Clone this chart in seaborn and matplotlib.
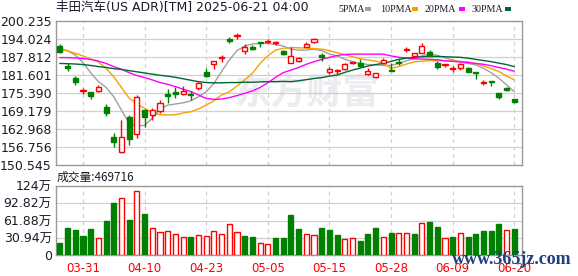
import numpy as np
import pandas as pd
import matplotlib
matplotlib.use("Agg")
import matplotlib.pyplot as plt
from matplotlib.patches import Rectangle
import seaborn as sns

# ---------------- data ----------------
dates = ["03-26", "03-27", "03-28", "03-31",
         "04-01", "04-02", "04-03", "04-04", "04-07", "04-08", "04-09", "04-10", "04-11",
         "04-14", "04-15", "04-16", "04-17", "04-21", "04-22", "04-23", "04-24", "04-25",
         "04-28", "04-29", "04-30",
         "05-01", "05-02", "05-05", "05-06", "05-07", "05-08", "05-09", "05-12", "05-13",
         "05-14", "05-15", "05-16", "05-19", "05-20", "05-21", "05-22", "05-23", "05-27",
         "05-28", "05-29", "05-30",
         "06-02", "06-03", "06-04", "06-05", "06-06", "06-09", "06-10", "06-11", "06-12",
         "06-13", "06-16", "06-17", "06-18", "06-20"]

open_ = [191.7, 184.8, 180.5, 176.0, 175.6, 176.2, 170.5, 160.1, 155.1, 167.0,
         161.2, 169.5, 167.8, 169.2, 175.0, 175.9, 175.1, 175.0, 177.0, 182.7,
         185.4, 187.4, 194.0, 195.0, 190.0, 191.4, 192.9, 192.9, 192.6, 190.0,
         185.9, 186.5, 191.4, 193.1, 188.5, 182.5, 182.9, 183.6, 185.9, 185.8,
         182.0, 181.0, 185.6, 183.4, 186.0, 190.3, 188.0, 189.3, 189.4, 185.6,
         185.0, 183.7, 184.1, 184.1, 182.4, 179.0, 179.6, 175.3, 177.0, 173.3]
close = [189.6, 184.1, 179.3, 176.2, 174.4, 177.4, 168.4, 158.6, 160.1, 159.4,
         174.1, 167.2, 169.5, 171.8, 174.2, 175.0, 176.1, 174.6, 178.7, 181.4,
         186.5, 187.8, 193.4, 195.4, 191.1, 190.7, 192.7, 193.1, 192.9, 188.9,
         188.1, 187.6, 192.3, 194.1, 187.7, 183.7, 183.2, 185.4, 186.1, 184.7,
         183.1, 182.2, 186.8, 183.1, 185.7, 190.5, 189.3, 191.6, 188.2, 184.3,
         185.3, 183.9, 185.3, 182.7, 182.2, 179.3, 179.1, 173.9, 176.3, 172.4]
high = [192.2, 185.6, 181.3, 177.2, 175.6, 178.1, 171.5, 161.5, 166.1, 167.8,
        174.7, 169.8, 170.1, 173.0, 176.7, 177.6, 177.8, 176.0, 179.3, 183.9,
        186.5, 188.5, 194.7, 196.0, 192.2, 191.9, 193.0, 194.0, 193.5, 190.2,
        191.4, 187.7, 193.1, 194.5, 189.1, 184.3, 183.8, 185.9, 186.1, 187.0,
        183.9, 182.2, 187.6, 185.6, 187.1, 191.3, 189.3, 192.7, 190.2, 186.4,
        185.3, 184.6, 185.9, 184.4, 182.4, 180.0, 179.6, 175.3, 177.6, 173.3]
low = [189.3, 183.0, 178.2, 174.9, 173.4, 175.6, 167.6, 156.9, 154.8, 157.4,
       160.0, 163.8, 166.1, 168.6, 171.8, 173.6, 174.7, 173.0, 176.4, 181.0,
       183.7, 186.2, 192.6, 193.9, 188.7, 190.1, 191.1, 192.6, 192.0, 188.6,
       185.6, 186.0, 191.2, 192.6, 186.5, 182.0, 182.0, 183.2, 185.3, 184.5,
       181.6, 180.4, 185.3, 183.0, 185.0, 189.7, 187.4, 189.1, 188.0, 183.6,
       184.3, 182.8, 183.4, 182.6, 180.2, 178.3, 177.9, 173.3, 176.2, 171.8]

ma5 = [190.8, 190.0, 188.5, 185.9, 182.4, 179.3, 177.3, 174.1, 169.5, 164.9,
       164.0, 164.2, 166.7, 169.8, 171.2, 171.6, 172.0, 172.7, 174.1, 175.8,
       178.7, 182.8, 186.8, 190.0, 191.6, 192.3, 192.5, 192.5, 192.1, 191.6,
       190.5, 190.2, 190.2, 190.5, 190.0, 188.8, 188.2, 187.0, 186.2, 185.6,
       185.2, 185.1, 184.9, 184.9, 185.6, 186.5, 187.3, 188.2, 188.8, 188.4,
       187.5, 186.8, 186.1, 185.6, 185.1, 183.9, 182.4, 180.5, 178.2, 175.8]
ma10 = [190.5, 189.9, 189.1, 188.2, 187.1, 186.1, 183.9, 181.0, 177.3, 173.6,
        171.6, 170.1, 168.6, 167.9, 167.8, 167.9, 168.5, 168.9, 169.9, 171.2,
        172.7, 174.7, 175.8, 177.8, 179.9, 182.2, 185.6, 188.2, 190.2, 190.8,
        191.1, 191.0, 190.9, 190.7, 190.5, 190.0, 189.3, 188.6, 187.9, 187.2,
        186.8, 186.4, 185.6, 183.9, 184.5, 185.4, 186.1, 186.4, 186.5, 186.5,
        186.5, 186.4, 186.3, 186.1, 185.6, 184.7, 183.8, 182.8, 181.3, 179.9]
ma20 = [187.6, 187.6, 187.5, 187.3, 187.0, 186.4, 185.6, 184.5, 183.6, 182.4,
        181.4, 180.7, 179.9, 179.0, 178.4, 177.6, 176.7, 175.9, 174.7, 173.5,
        173.2, 173.3, 173.8, 174.5, 175.3, 176.1, 177.3, 178.9, 180.8, 182.4,
        183.3, 184.2, 185.3, 186.2, 187.0, 187.7, 188.3, 188.7, 188.8, 188.8,
        188.8, 188.8, 188.8, 188.2, 187.7, 187.5, 187.2, 187.1, 187.0, 186.9,
        186.5, 186.3, 186.1, 185.9, 185.6, 185.3, 184.8, 184.2, 183.6, 182.9]
ma30 = [185.6, 185.5, 185.4, 185.2, 184.9, 184.5, 184.2, 183.8, 183.5, 183.1,
        182.7, 182.3, 181.9, 181.5, 181.2, 180.8, 180.3, 179.8, 179.3, 179.0,
        178.9, 178.9, 179.0, 179.0, 179.1, 179.1, 179.2, 179.3, 179.3, 179.4,
        179.3, 179.6, 180.0, 180.4, 180.7, 181.2, 181.6, 182.5, 183.3, 184.0,
        184.7, 185.2, 185.6, 186.3, 187.0, 187.4, 187.7, 187.9, 188.0, 188.0,
        187.9, 187.8, 187.7, 187.4, 187.0, 186.6, 186.2, 185.7, 185.2, 184.5]

volume_wan = [22.1, 48.4, 44.8, 34.1, 46.6, 29.9, 61.0, 93.3, 101.6, 62.8,
              114.2, 73.5, 47.8, 40.7, 42.4, 37.7, 31.7, 32.3, 35.9, 33.5,
              42.4, 37.7, 55.6, 40.7, 34.1, 32.3, 21.5, 19.7, 30.5, 30.5,
              71.7, 46.6, 37.7, 35.9, 48.4, 44.8, 35.9, 28.7, 30.5, 25.1,
              37.7, 48.4, 32.3, 39.5, 39.5, 39.5, 37.7, 57.4, 59.2, 50.2,
              30.5, 32.3, 39.5, 32.3, 37.7, 43.0, 43.0, 56.2, 44.8, 46.97]
volume_up = [0, 0, 0, 0, 0, 1, 0, 0, 1, 0,
             1, 0, 1, 1, 1, 1, 1, 0, 1, 1,
             1, 1, 1, 1, 0, 0, 1, 1, 0, 0,
             0, 0, 1, 1, 0, 0, 0, 1, 1, 0,
             0, 0, 1, 0, 1, 1, 0, 1, 0, 0,
             1, 0, 1, 0, 0, 0, 0, 0, 1, 0]

price_ticks = [150.545, 156.756, 162.968, 169.179, 175.390, 181.601, 187.812, 194.024, 200.235]
price_labels = ["150.545", "156.756", "162.968", "169.179", "175.390", "181.601",
                "187.812", "194.024", "200.235"]
vol_ticks = [0, 30.94, 61.88, 92.82, 123.76]
vol_labels = ["0", "30.94万", "61.88万", "92.82万", "124万"]
x_tick_labels = ["03-31", "04-10", "04-23", "05-05", "05-15", "05-28", "06-09", "06-20"]

title = "丰田汽车(US ADR)[TM] 2025-06-21 04:00"
vol_title = "成交量:469716"
ma_names = ["5PMA", "10PMA", "20PMA", "30PMA"]

# ---------------- style ----------------
sns.set_style("white")
plt.rcParams["font.family"] = ["DejaVu Sans", "Noto Sans CJK SC"]

RED = "#ff0000"
GREEN = "#008000"
MA_COLORS = ["#a0a0a0", "#f5a300", "#ff00ff", "#006633"]
GRID = "#d0d0d0"
SPINE = "#999999"
TXT = "#1a1a2a"

W, H = 578, 276
fig = plt.figure(figsize=(W / 100, H / 100), dpi=100)
fig.patch.set_facecolor("white")


def box(l, t, r, b):
    return [l / W, 1 - b / H, (r - l) / W, (b - t) / H]


ax = fig.add_axes(box(56, 21, 522, 165))
axv = fig.add_axes(box(56, 186, 522, 255))

df = pd.DataFrame({"date": dates, "open": open_, "close": close, "high": high,
                   "low": low, "ma5": ma5, "ma10": ma10, "ma20": ma20, "ma30": ma30,
                   "vol": volume_wan, "up": volume_up})
df["x"] = np.arange(len(df))
xt = [dates.index(d) for d in x_tick_labels]

for a in (ax, axv):
    a.set_xlim(-0.5, len(df))
    for s in a.spines.values():
        s.set_color(SPINE)
        s.set_linewidth(1.0)
    a.set_xticks(xt)
    for x in xt:
        a.axvline(x, color=GRID, lw=0.9, ls=(0, (3, 3)), zorder=0)
    a.tick_params(length=0)

# watermark
ax.text(0.54, 0.50, "东方财富", transform=ax.transAxes, ha="center", va="center",
        fontsize=26, fontweight="bold", color="#ebebf0", family=["Noto Sans CJK SC"], zorder=0)

# main price panel
ax.set_ylim(price_ticks[0], price_ticks[-1])
ax.set_yticks(price_ticks)
ax.set_yticklabels(price_labels)
for y in price_ticks[1:-1]:
    ax.axhline(y, color=GRID, lw=0.9, zorder=0)

for col, c in zip(["ma5", "ma10", "ma20", "ma30"], MA_COLORS):
    sns.lineplot(data=df, x="x", y=col, ax=ax, color=c, lw=1.0, zorder=2, legend=False)

bw = 0.66
up = df["close"] >= df["open"]
cols = np.where(up, RED, GREEN)
ax.vlines(df["x"], df["low"], df["high"], colors=cols, lw=1.0, zorder=3)
body_low = np.minimum(df["open"], df["close"])
body_h = np.maximum(np.abs(df["close"] - df["open"]), 0.3)
ax.bar(df["x"][up], body_h[up], bottom=body_low[up], width=bw, facecolor="white",
       edgecolor=RED, linewidth=1.0, zorder=4)
ax.bar(df["x"][~up], body_h[~up], bottom=body_low[~up], width=bw, facecolor=GREEN,
       edgecolor=GREEN, linewidth=1.0, zorder=4)
ax.set_xticklabels([])
ax.set_xlabel("")
ax.set_ylabel("")

# volume panel
axv.set_ylim(0, vol_ticks[-1])
axv.set_yticks(vol_ticks)
axv.set_yticklabels(vol_labels)
for y in vol_ticks[1:-1]:
    axv.axhline(y, color=GRID, lw=0.9, zorder=0)
vup = df["up"] == 1
axv.bar(df["x"][vup], df["vol"][vup], width=bw, facecolor="white", edgecolor=RED,
        linewidth=1.0, zorder=3)
axv.bar(df["x"][~vup], df["vol"][~vup], width=bw, facecolor=GREEN, edgecolor=GREEN,
        linewidth=1.0, zorder=3)
axv.set_xticklabels(x_tick_labels)

for lab in ax.get_yticklabels() + axv.get_yticklabels():
    lab.set_fontsize(9)
    lab.set_color(TXT)
for lab in axv.get_xticklabels():
    lab.set_fontsize(8.5)
    lab.set_color(RED)
ax.tick_params(axis="y", pad=3)
axv.tick_params(axis="y", pad=3)
axv.tick_params(axis="x", pad=5)

# header texts
fig.text(56 / W, 1 - 8 / H, title, ha="left", va="center", fontsize=9, color=TXT,
         family=["DejaVu Sans", "Noto Sans CJK SC"])
fig.text(57 / W, 1 - 177 / H, vol_title, ha="left", va="center", fontsize=8.5,
         color=TXT, family=["Noto Sans CJK SC"])

leg_x = [338, 380, 425, 471]
sq_x = [365, 412, 459, 505]
for name, lx, sx, c in zip(ma_names, leg_x, sq_x, MA_COLORS):
    fig.text(lx / W, 1 - 9 / H, name, ha="left", va="center", fontsize=7.2,
             color=TXT, family=["Liberation Serif"])
    fig.patches.append(Rectangle((sx / W, 1 - 10.5 / H), 6 / W, 3 / H,
                                 transform=fig.transFigure, facecolor=c, edgecolor="none"))

# site watermark (overlays the axis labels, as in the reference)
fig.text(512 / W, 1 - 259 / H, "www.365jz.com", ha="center", va="center", fontsize=13,
         fontweight="bold", color="#1f3f7f", family=["Liberation Serif"], zorder=10)

fig.savefig("out.png", dpi=100, facecolor="white")
